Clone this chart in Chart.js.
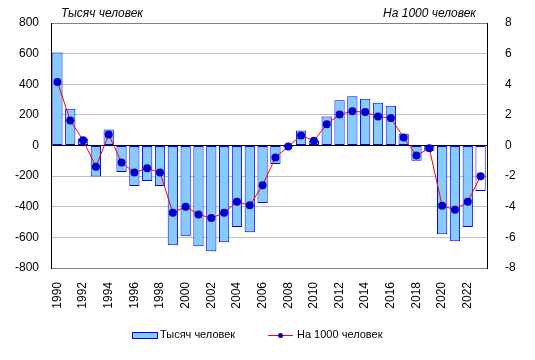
<!DOCTYPE html>
<html>
<head>
<meta charset="utf-8">
<script src="https://cdn.jsdelivr.net/npm/chart.js@4"></script>
<style>
  html, body { margin: 0; padding: 0; background: #fff; }
  #wrap { width: 535px; height: 360px; position: relative; }
</style>
</head>
<body>
<div id="wrap"><canvas id="chart"></canvas></div>
<script>
const years = [];
for (let y = 1990; y <= 2023; y++) years.push(String(y));

const thousands = [608, 240, 46, -203, 105, -173, -264, -232, -264, -651,
  -592, -658, -691, -632, -533, -566, -376, -120, -8, 98,
  33, 190, 295, 321, 306, 280, 260, 77, -100, -35,
  -579, -625, -533, -297];

const per1000 = [4.15, 1.64, 0.35, -1.38, 0.72, -1.11, -1.77, -1.49, -1.77, -4.39,
  -4.0, -4.5, -4.74, -4.39, -3.67, -3.91, -2.6, -0.79, -0.07, 0.66,
  0.31, 1.38, 2.03, 2.23, 2.18, 1.9, 1.79, 0.52, -0.66, -0.18,
  -3.93, -4.2, -3.67, -2.01];

const leftTicks = [-800, -600, -400, -200, 0, 200, 400, 600, 800];
const rightTicks = [-8, -6, -4, -2, 0, 2, 4, 6, 8];

const barFill = '#86CBFA';
const font = 'Liberation Sans, Arial, sans-serif';

const extras = {
  id: 'extras',
  afterDraw(chart) {
    const ctx = chart.ctx;
    ctx.save();
    ctx.fillStyle = '#000';
    ctx.font = 'italic 12px ' + font;
    ctx.textBaseline = 'middle';
    ctx.textAlign = 'left';
    ctx.fillText('Тысяч человек', 61, 14);
    ctx.textAlign = 'right';
    ctx.fillText('На 1000 человек', 476, 14);

    // legend
    const ly = 335;
    ctx.fillStyle = barFill;
    ctx.fillRect(132, ly - 3, 25, 6);
    ctx.strokeStyle = '#0000FF';
    ctx.lineWidth = 1;
    ctx.strokeRect(132.5, ly - 2.5, 25, 6);
    ctx.font = '11px ' + font;
    ctx.textAlign = 'left';
    ctx.fillStyle = '#000';
    ctx.fillText(thousands.length ? 'Тысяч человек' : '', 160, ly);

    ctx.strokeStyle = '#FF0000';
    ctx.beginPath();
    ctx.moveTo(268, ly + 0.5);
    ctx.lineTo(293, ly + 0.5);
    ctx.stroke();
    ctx.fillStyle = '#0000CC';
    ctx.beginPath();
    ctx.arc(280.5, ly + 0.5, 2.5, 0, Math.PI * 2);
    ctx.fill();
    ctx.fillStyle = '#000';
    ctx.fillText('На 1000 человек', 297, ly);
    ctx.restore();
  }
};

new Chart(document.getElementById('chart'), {
  data: {
    labels: years,
    datasets: [
      {
        type: 'line',
        label: 'На 1000 человек',
        data: per1000,
        yAxisID: 'y2',
        borderColor: '#FF0000',
        borderWidth: 1,
        pointRadius: 4,
        pointBackgroundColor: '#0000CC',
        pointBorderColor: '#0000CC',
        pointBorderWidth: 0,
        tension: 0,
        order: 0
      },
      {
        type: 'bar',
        label: 'Тысяч человек',
        data: thousands,
        yAxisID: 'y',
        backgroundColor: years.map((y, i) => i === years.length - 1 ? '#FFFFFF' : barFill),
        borderColor: '#0000FF',
        borderWidth: 1,
        borderSkipped: false,
        barPercentage: 0.8,
        categoryPercentage: 1,
        order: 1
      }
    ]
  },
  options: {
    responsive: true,
    maintainAspectRatio: false,
    animation: false,
    layout: { padding: { top: 23, left: 0, right: 0, bottom: 0 } },
    plugins: { legend: { display: false }, tooltip: { enabled: false } },
    scales: {
      x: {
        grid: { display: false },
        border: { display: false },
        ticks: {
          autoSkip: false,
          minRotation: 90,
          maxRotation: 90,
          padding: 6,
          color: '#000',
          font: { family: font, size: 12 },
          callback: (v, i) => (i % 2 === 0 ? years[i] : '')
        },
        afterFit: (s) => { s.height = 92; }
      },
      y: {
        position: 'left',
        min: -800,
        max: 800,
        afterBuildTicks: (s) => { s.ticks = leftTicks.map((v) => ({ value: v })); },
        grid: {
          drawTicks: false,
          color: (c) => (c.tick.value === 0 ? '#000' : (Math.abs(c.tick.value) === 800 ? '#808080' : '#C0C0C0')),
          lineWidth: 1
        },
        border: { display: true, color: '#000' },
        ticks: { padding: 12, color: '#000', font: { family: font, size: 12 } },
        afterFit: (s) => { s.width = 51; }
      },
      y2: {
        position: 'right',
        min: -8,
        max: 8,
        afterBuildTicks: (s) => { s.ticks = rightTicks.map((v) => ({ value: v })); },
        grid: { display: false },
        border: { display: true, color: '#000' },
        ticks: { padding: 10, color: '#000', font: { family: font, size: 12 } },
        afterFit: (s) => { s.width = 48; }
      }
    }
  },
  plugins: [extras]
});
</script>
</body>
</html>
